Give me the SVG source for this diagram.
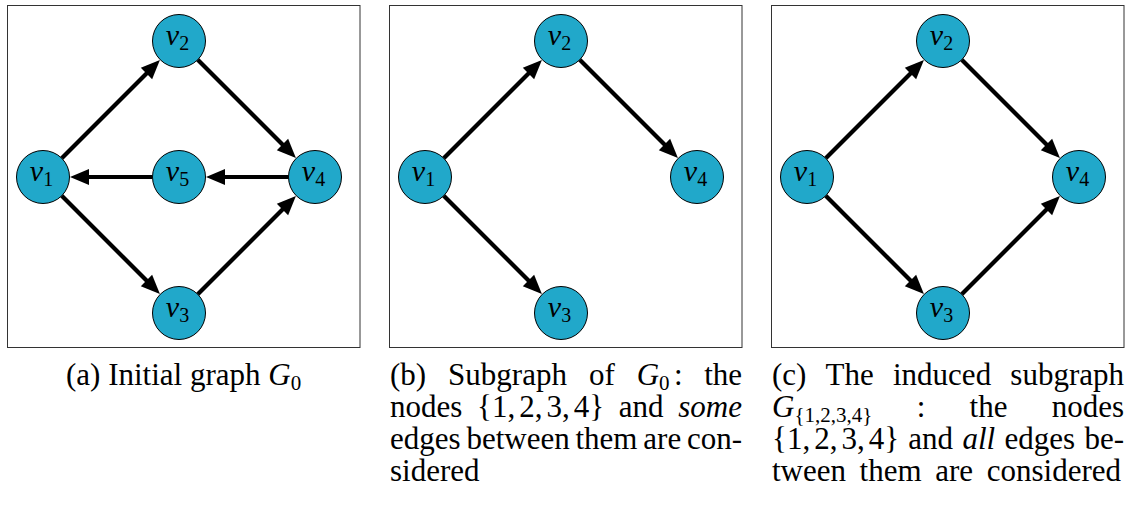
<svg xmlns="http://www.w3.org/2000/svg" width="1126" height="508" viewBox="0 0 1126 508">
<defs>
<style>
.frame{fill:none;stroke:#333;stroke-width:1}
.node circle{fill:#21a8ca;stroke:#000;stroke-width:1}
.lbl{font-size:30px;font-style:italic;text-anchor:middle;fill:#000}
.sub{font-style:normal;font-size:20px}
.edge{stroke:#000;stroke-width:4.2;fill:none;marker-end:url(#ah)}
.cap{font-size:31px;fill:#000}
.it{font-style:italic}
.csub{font-size:21px;font-style:normal}
</style>
<marker id="ah" markerUnits="userSpaceOnUse" markerWidth="19" markerHeight="16" refX="11" refY="8" orient="auto" overflow="visible">
<path d="M0,0 L19,8 L0,16 z" fill="#000"/>
</marker>
</defs>
<rect width="1126" height="508" fill="#fff"/>

<g id="panel-a">
<rect class="frame" x="7.5" y="5.5" width="352.5" height="342"/>
<g id="edges-a">
<line class="edge" x1="61.74" y1="158.26" x2="154.25" y2="65.75"/>
<line class="edge" x1="197.74" y1="59.74" x2="290.25" y2="152.25"/>
<line class="edge" x1="61.74" y1="195.74" x2="154.25" y2="288.25"/>
<line class="edge" x1="197.74" y1="294.26" x2="290.25" y2="201.75"/>
<line class="edge" x1="288.5" y1="177" x2="214" y2="177"/>
<line class="edge" x1="152.5" y1="177" x2="78" y2="177"/>
</g>
<g id="a-v1" class="node"><circle cx="43" cy="177" r="26.5"/><text class="lbl" x="41.5" y="181" font-family="Liberation Serif">v<tspan class="sub" dy="5">1</tspan></text></g>
<g id="a-v2" class="node"><circle cx="179" cy="41" r="26.5"/><text class="lbl" x="177.5" y="45" font-family="Liberation Serif">v<tspan class="sub" dy="5">2</tspan></text></g>
<g id="a-v3" class="node"><circle cx="179" cy="313" r="26.5"/><text class="lbl" x="177.5" y="317" font-family="Liberation Serif">v<tspan class="sub" dy="5">3</tspan></text></g>
<g id="a-v4" class="node"><circle cx="315" cy="177" r="26.5"/><text class="lbl" x="313.5" y="181" font-family="Liberation Serif">v<tspan class="sub" dy="5">4</tspan></text></g>
<g id="a-v5" class="node"><circle cx="179" cy="177" r="26.5"/><text class="lbl" x="177.5" y="181" font-family="Liberation Serif">v<tspan class="sub" dy="5">5</tspan></text></g>
<text id="caption-a" class="cap" x="66" y="385" font-family="Liberation Serif">(a) Initial graph <tspan class="it">G</tspan><tspan class="csub" dy="4.5">0</tspan></text>
</g>

<g id="panel-b">
<rect class="frame" x="389.5" y="5.5" width="352.5" height="342"/>
<g id="edges-b" transform="translate(382,0)">
<line class="edge" x1="61.74" y1="158.26" x2="154.25" y2="65.75"/>
<line class="edge" x1="197.74" y1="59.74" x2="290.25" y2="152.25"/>
<line class="edge" x1="61.74" y1="195.74" x2="154.25" y2="288.25"/>
</g>
<g id="b-v1" class="node"><circle cx="425" cy="177" r="26.5"/><text class="lbl" x="423.5" y="181" font-family="Liberation Serif">v<tspan class="sub" dy="5">1</tspan></text></g>
<g id="b-v2" class="node"><circle cx="561" cy="41" r="26.5"/><text class="lbl" x="559.5" y="45" font-family="Liberation Serif">v<tspan class="sub" dy="5">2</tspan></text></g>
<g id="b-v3" class="node"><circle cx="561" cy="313" r="26.5"/><text class="lbl" x="559.5" y="317" font-family="Liberation Serif">v<tspan class="sub" dy="5">3</tspan></text></g>
<g id="b-v4" class="node"><circle cx="697" cy="177" r="26.5"/><text class="lbl" x="695.5" y="181" font-family="Liberation Serif">v<tspan class="sub" dy="5">4</tspan></text></g>
<g id="caption-b">
<text class="cap" x="390" y="385" font-family="Liberation Serif">(b)</text>
<text class="cap" x="448.1" y="385" font-family="Liberation Serif">Subgraph</text>
<text class="cap" x="588.9" y="385" font-family="Liberation Serif">of</text>
<text class="cap" x="636.7" y="385" font-family="Liberation Serif"><tspan class="it">G</tspan><tspan class="csub" dy="4.5">0</tspan></text>
<text class="cap" x="674" y="385" font-family="Liberation Serif">:</text>
<text class="cap" x="742" y="385" text-anchor="end" font-family="Liberation Serif">the</text>
<text class="cap" x="390" y="417" font-family="Liberation Serif">nodes</text>
<text class="cap" x="477" y="417" font-family="Liberation Serif">{1,<tspan dx="4">2,</tspan><tspan dx="4">3,</tspan><tspan dx="4">4}</tspan></text>
<text class="cap" x="618.7" y="417" font-family="Liberation Serif">and</text>
<text class="cap it" x="742" y="417" text-anchor="end" font-family="Liberation Serif">some</text>
<text class="cap" x="390" y="449" font-family="Liberation Serif">edges</text>
<text class="cap" x="466.4" y="449" font-family="Liberation Serif">between</text>
<text class="cap" x="575.5" y="449" font-family="Liberation Serif">them</text>
<text class="cap" x="643.3" y="449" font-family="Liberation Serif">are</text>
<text class="cap" x="742" y="449" text-anchor="end" font-family="Liberation Serif">con-</text>
<text class="cap" x="390" y="481" font-family="Liberation Serif">sidered</text>
</g>
</g>

<g id="panel-c">
<rect class="frame" x="771.5" y="5.5" width="352.5" height="342"/>
<g id="edges-c" transform="translate(764,0)">
<line class="edge" x1="61.74" y1="158.26" x2="154.25" y2="65.75"/>
<line class="edge" x1="197.74" y1="59.74" x2="290.25" y2="152.25"/>
<line class="edge" x1="61.74" y1="195.74" x2="154.25" y2="288.25"/>
<line class="edge" x1="197.74" y1="294.26" x2="290.25" y2="201.75"/>
</g>
<g id="c-v1" class="node"><circle cx="807" cy="177" r="26.5"/><text class="lbl" x="805.5" y="181" font-family="Liberation Serif">v<tspan class="sub" dy="5">1</tspan></text></g>
<g id="c-v2" class="node"><circle cx="943" cy="41" r="26.5"/><text class="lbl" x="941.5" y="45" font-family="Liberation Serif">v<tspan class="sub" dy="5">2</tspan></text></g>
<g id="c-v3" class="node"><circle cx="943" cy="313" r="26.5"/><text class="lbl" x="941.5" y="317" font-family="Liberation Serif">v<tspan class="sub" dy="5">3</tspan></text></g>
<g id="c-v4" class="node"><circle cx="1079" cy="177" r="26.5"/><text class="lbl" x="1077.5" y="181" font-family="Liberation Serif">v<tspan class="sub" dy="5">4</tspan></text></g>
<g id="caption-c">
<text class="cap" x="772" y="385" font-family="Liberation Serif">(c)</text>
<text class="cap" x="825.6" y="385" font-family="Liberation Serif">The</text>
<text class="cap" x="893" y="385" font-family="Liberation Serif">induced</text>
<text class="cap" x="1124" y="385" text-anchor="end" font-family="Liberation Serif">subgraph</text>
<text class="cap" x="772" y="417" font-family="Liberation Serif"><tspan class="it">G</tspan><tspan class="csub" dy="5">{1,2,3,4}</tspan></text>
<text class="cap" x="916.7" y="417" font-family="Liberation Serif">:</text>
<text class="cap" x="969.6" y="417" font-family="Liberation Serif">the</text>
<text class="cap" x="1124" y="417" text-anchor="end" font-family="Liberation Serif">nodes</text>
<text class="cap" x="772" y="449" font-family="Liberation Serif">{1,<tspan dx="4">2,</tspan><tspan dx="4">3,</tspan><tspan dx="4">4}</tspan></text>
<text class="cap" x="908.3" y="449" font-family="Liberation Serif">and</text>
<text class="cap it" x="962.4" y="449" font-family="Liberation Serif">all</text>
<text class="cap" x="1004.4" y="449" font-family="Liberation Serif">edges</text>
<text class="cap" x="1124" y="449" text-anchor="end" font-family="Liberation Serif">be-</text>
<text class="cap" x="772" y="481" font-family="Liberation Serif">tween</text>
<text class="cap" x="859.6" y="481" font-family="Liberation Serif">them</text>
<text class="cap" x="935.2" y="481" font-family="Liberation Serif">are</text>
<text class="cap" x="1121" y="481" text-anchor="end" font-family="Liberation Serif">considered</text>
</g>
</g>
</svg>
